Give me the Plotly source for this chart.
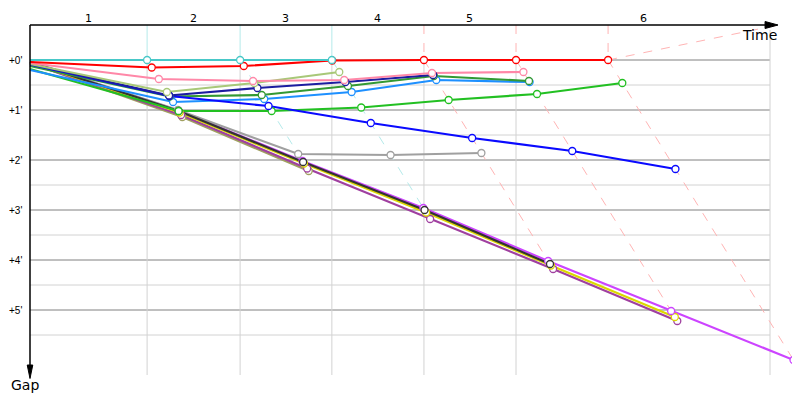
import plotly.graph_objects as go

# ---------------- data ----------------
# leader's cumulative race time (minutes) at the end of each lap
leader_lap_times = [3.79, 6.80, 9.77, 12.75, 15.73, 18.71]
lap_labels = ["1", "2", "3", "4", "5", "6"]
gap_ticks = [0, 1, 2, 3, 4, 5]
gap_tick_labels = ["+0'", "+1'", "+2'", "+3'", "+4'", "+5'"]
time_grid_end = 23.95
time_axis_end = 24.21

# gap to leader (minutes): index 0 = start, then laps 1..n
gaps_cyan = [0.00, 0.00, 0.00, 0.00]
gaps_red = [0.04, 0.15, 0.12, 0.01, 0.00, 0.00, 0.00]
gaps_pink = [0.06, 0.38, 0.42, 0.40, 0.26, 0.24]
gaps_olive = [0.08, 0.64, 0.46, 0.24]
gaps_navy = [0.08, 0.71, 0.56, 0.44, 0.30]
gaps_blue = [0.09, 0.72, 0.92, 1.26, 1.56, 1.82, 2.18]
gaps_darkgreen = [0.12, 0.73, 0.70, 0.52, 0.32, 0.42]
gaps_lightblue = [0.20, 0.84, 0.78, 0.64, 0.40, 0.44]
gaps_green = [0.18, 1.02, 1.02, 0.95, 0.80, 0.68, 0.46]
gaps_gray = [0.03, 1.00, 1.88, 1.90, 1.86]
gaps_black = [0.04, 1.02, 2.04, 3.00, 4.08]
gaps_yellow = [0.05, 1.05, 2.07, 3.05, 4.11, 5.14]
gaps_purple = [0.06, 1.10, 2.17, 3.18, 4.18, 5.22]
gaps_khaki = [0.06, 1.14, 2.22]
gaps_magenta = [0.03, 1.01, 2.02, 2.96, 4.02, 5.02, 6.00]

# drawing order (bottom first)
series = [
    ("khaki", gaps_khaki, "#a0a060"),
    ("purple", gaps_purple, "#a040a0"),
    ("yellow", gaps_yellow, "#dcd800"),
    ("magenta", gaps_magenta, "#cc44ff"),
    ("gray", gaps_gray, "#a0a0a0"),
    ("black", gaps_black, "#333333"),
    ("green", gaps_green, "#22c022"),
    ("lightblue", gaps_lightblue, "#1e90ff"),
    ("darkgreen", gaps_darkgreen, "#339933"),
    ("blue", gaps_blue, "#0a0aff"),
    ("navy", gaps_navy, "#1c1ca0"),
    ("olive", gaps_olive, "#a8c878"),
    ("pink", gaps_pink, "#ff88a8"),
    ("red", gaps_red, "#ff0000"),
    ("cyan", gaps_cyan, "#48c8c8"),
]
light = {"cyan": "#b4eaea", "red": "#ffb4b4"}

# page is offset by the body margin, ranges compensate for it
X_RANGE = [-0.712, 25.18]
Y_RANGE = [6.96, -1.04]
TOP = -0.7
BOTTOM = 6.3


def xy(gaps):
    xs = [0.0] + [leader_lap_times[k - 1] + g for k, g in enumerate(gaps) if k >= 1]
    return xs, list(gaps)


fig = go.Figure()

# ---- lap lines (leader colour, light) ----
for k, t in enumerate(leader_lap_times, start=1):
    lap_gaps = {name: g[k] for name, g, c in series if len(g) > k}
    leader = min(lap_gaps, key=lambda n: (lap_gaps[n], n != "cyan"))
    col = light.get(leader, "#ffb4b4")
    gmax = max(lap_gaps.values())
    vert_dash = "solid" if leader == "cyan" else "dash"
    fig.add_trace(go.Scatter(x=[t, t], y=[TOP, 0], mode="lines",
                             line=dict(color=col, width=1, dash=vert_dash),
                             hoverinfo="skip", showlegend=False))
    fig.add_trace(go.Scatter(x=[t, t + gmax], y=[0, gmax], mode="lines",
                             line=dict(color=col, width=1, dash="dash"),
                             hoverinfo="skip", showlegend=False))
# projection of the last lap line towards the time arrow
fig.add_trace(go.Scatter(x=[leader_lap_times[-1], time_axis_end], y=[0, TOP], mode="lines",
                         line=dict(color="#ffb4b4", width=1, dash="dash"),
                         hoverinfo="skip", showlegend=False))

# ---- series lines ----
for name, g, c in series:
    xs, ys = xy(g)
    fig.add_trace(go.Scatter(x=xs, y=ys, mode="lines", name=name,
                             line=dict(color=c, width=2.2), showlegend=False))
# ---- markers ----
for name, g, c in series:
    xs, ys = xy(g)
    fig.add_trace(go.Scatter(x=xs[1:], y=ys[1:], mode="markers", name=name,
                             marker=dict(size=7, color="white", line=dict(color=c, width=1.3)),
                             showlegend=False))

shapes = []
# horizontal grid
for i in range(6):
    shapes.append(dict(type="line", xref="x", yref="y", x0=0, x1=time_grid_end, y0=i + 0.5, y1=i + 0.5,
                       line=dict(color="#d2d2d2", width=1), layer="below"))
    shapes.append(dict(type="line", xref="x", yref="y", x0=0, x1=time_grid_end, y0=i, y1=i,
                       line=dict(color="#808080", width=1), layer="below"))
# vertical grid
for t in leader_lap_times[:-1]:
    shapes.append(dict(type="line", xref="x", yref="y", x0=t, x1=t, y0=0, y1=BOTTOM,
                       line=dict(color="#d2d2d2", width=1), layer="below"))
shapes.append(dict(type="line", xref="x", yref="y", x0=time_grid_end, x1=time_grid_end, y0=TOP + 0.1, y1=BOTTOM,
                   line=dict(color="#d2d2d2", width=1), layer="below"))
# axes with arrows
shapes.append(dict(type="line", xref="x", yref="y", x0=0, x1=time_axis_end - 0.3, y0=TOP, y1=TOP,
                   line=dict(color="black", width=1.5)))
shapes.append(dict(type="path", xref="x", yref="y",
                   path=f"M {time_axis_end-0.42},{TOP-0.07} L {time_axis_end},{TOP} L {time_axis_end-0.42},{TOP+0.07} Z",
                   fillcolor="black", line=dict(color="black", width=1)))
shapes.append(dict(type="line", xref="x", yref="y", x0=0, x1=0, y0=TOP, y1=6.12,
                   line=dict(color="black", width=1.5)))
shapes.append(dict(type="path", xref="x", yref="y",
                   path="M -0.09,6.1 L 0.09,6.1 L 0,6.37 Z",
                   fillcolor="black", line=dict(color="black", width=1)))

annotations = []
bounds = [0] + leader_lap_times[:-1] + [time_grid_end]
for i, lab in enumerate(lap_labels):
    annotations.append(dict(x=(bounds[i] + bounds[i + 1]) / 2, y=-0.84, xref="x", yref="y",
                            text=lab, showarrow=False, font=dict(size=11, color="black")))
for v, lab in zip(gap_ticks, gap_tick_labels):
    annotations.append(dict(x=0, y=v, xref="x", yref="y", text=lab, showarrow=False,
                            xanchor="right", xshift=-6,
                            font=dict(size=10, color="black", family="Liberation Sans")))
annotations.append(dict(x=23.62, y=-0.5, xref="x", yref="y", text="Time", showarrow=False,
                        font=dict(size=14, color="black")))
annotations.append(dict(x=-0.16, y=6.5, xref="x", yref="y", text="Gap", showarrow=False,
                        font=dict(size=14, color="black")))

fig.update_layout(
    width=800, height=400,
    margin=dict(l=0, r=0, t=0, b=0),
    paper_bgcolor="white", plot_bgcolor="white",
    font=dict(family="DejaVu Sans", color="black"),
    xaxis=dict(range=X_RANGE, visible=False, showgrid=False, zeroline=False),
    yaxis=dict(range=Y_RANGE, visible=False, showgrid=False, zeroline=False),
    shapes=shapes, annotations=annotations, showlegend=False,
)
fig.write_html("out.html")
